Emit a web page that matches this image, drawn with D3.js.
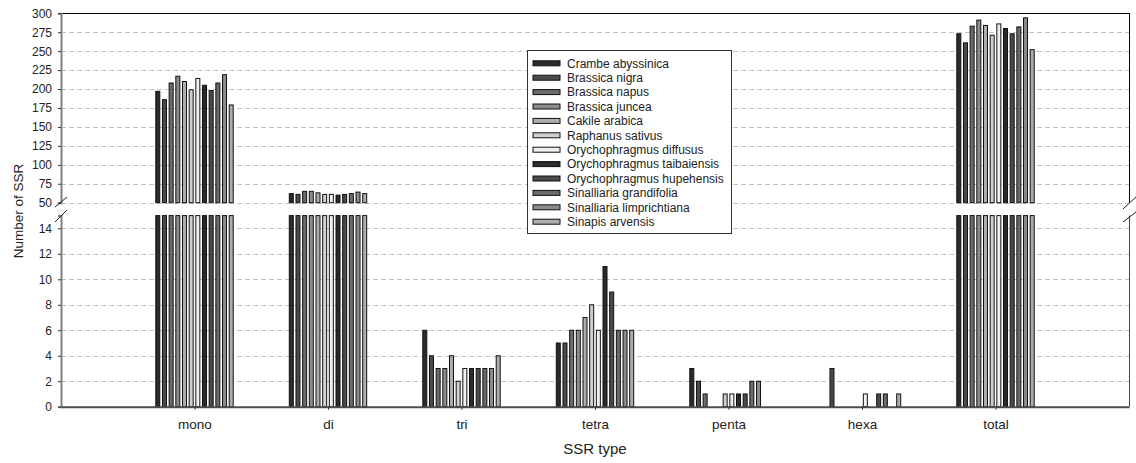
<!DOCTYPE html>
<html>
<head>
<meta charset="utf-8">
<script src="https://cdn.jsdelivr.net/npm/d3@7/dist/d3.min.js"></script>
<style>
  body { margin: 0; background: #fff; }
  svg { display: block; font-family: "Liberation Sans", Arial, sans-serif; }
</style>
</head>
<body>
<div id="chart"></div>
<script>
const categories = ['mono', 'di', 'tri', 'tetra', 'penta', 'hexa', 'total'];
const species = [
  'Crambe abyssinica', 'Brassica nigra', 'Brassica napus', 'Brassica juncea',
  'Cakile arabica', 'Raphanus sativus', 'Orychophragmus diffusus',
  'Orychophragmus taibaiensis', 'Orychophragmus hupehensis',
  'Sinalliaria grandifolia', 'Sinalliaria limprichtiana', 'Sinapis arvensis'
];
// counts per SSR type, one value per species (same order as species)
const mono  = [197, 186, 208, 217, 210, 199, 214, 205, 198, 208, 219, 179];
const di    = [62, 61, 65, 65, 63, 61, 61, 60, 61, 62, 64, 62];
const tri   = [6, 4, 3, 3, 4, 2, 3, 3, 3, 3, 3, 4];
const tetra = [5, 5, 6, 6, 7, 8, 6, 11, 9, 6, 6, 6];
const penta = [3, 2, 1, 0, 0, 1, 1, 1, 1, 2, 2, 0];
const hexa  = [0, 3, 0, 0, 0, 0, 1, 0, 1, 1, 0, 1];
const total = [273, 261, 283, 291, 284, 271, 286, 280, 273, 282, 294, 252];
const topTicks = [50, 75, 100, 125, 150, 175, 200, 225, 250, 275, 300];
const bottomTicks = [0, 2, 4, 6, 8, 10, 12, 14];
const colors = ['#2b2b2b', '#4a4a4a', '#6b6b6b', '#8c8c8c', '#adadad', '#cfcfcf',
  '#f0f0f0', '#2b2b2b', '#4a4a4a', '#6b6b6b', '#8c8c8c', '#adadad'];

const width = 1136, height = 463;
const left = 61, right = 1129;
const seriesByType = { mono, di, tri, tetra, penta, hexa, total };

const svg = d3.select('#chart').append('svg')
  .attr('width', width)
  .attr('height', height);

const x0 = d3.scalePoint().domain(categories).range([left, right]).padding(1);
const x1 = d3.scaleBand().domain(species).range([-38.7, 38.7]).paddingInner(0.4);
const color = d3.scaleOrdinal().domain(species).range(colors);

// broken y axis: upper part 50-300, lower part 0-15
const yTop = d3.scaleLinear().domain([50, 300]).range([202.7, 13.3]);
const yBot = d3.scaleLinear().domain([0, 15]).range([406.7, 215.6]);

// grid lines
const grid = svg.append('g')
  .attr('stroke', '#c4c4c4')
  .attr('stroke-dasharray', '5,3');
grid.selectAll('.gt').data(topTicks.filter(d => d < 300)).enter().append('line')
  .attr('x1', left).attr('x2', right)
  .attr('y1', d => Math.round(yTop(d)) + 0.5).attr('y2', d => Math.round(yTop(d)) + 0.5);
grid.selectAll('.gb').data(bottomTicks.filter(d => d > 0)).enter().append('line')
  .attr('x1', left).attr('x2', right)
  .attr('y1', d => Math.round(yBot(d)) + 0.5).attr('y2', d => Math.round(yBot(d)) + 0.5);

// rows: one per (type, species)
const rows = [];
categories.forEach(c => {
  seriesByType[c].forEach((v, i) => rows.push({ type: c, sp: species[i], value: v }));
});

const bars = svg.append('g')
  .attr('stroke', '#111')
  .attr('stroke-width', 1);

// lower panel pieces
bars.selectAll('.b').data(rows.filter(d => d.value > 0)).enter().append('rect')
  .attr('x', d => x0(d.type) + x1(d.sp))
  .attr('width', x1.bandwidth())
  .attr('y', d => yBot(Math.min(d.value, 15)))
  .attr('height', d => yBot(0) - yBot(Math.min(d.value, 15)))
  .attr('fill', d => color(d.sp));

// upper panel pieces
bars.selectAll('.t').data(rows.filter(d => d.value > 50)).enter().append('rect')
  .attr('x', d => x0(d.type) + x1(d.sp))
  .attr('width', x1.bandwidth())
  .attr('y', d => yTop(d.value))
  .attr('height', d => yTop(50) - yTop(d.value))
  .attr('fill', d => color(d.sp));

// frame lines
svg.append('line').attr('x1', left).attr('x2', right).attr('y1', 13.5).attr('y2', 13.5)
  .attr('stroke', '#000').attr('stroke-width', 1);
svg.append('line').attr('x1', right + 0.5).attr('x2', right + 0.5).attr('y1', 13).attr('y2', yTop(50))
  .attr('stroke', '#000').attr('stroke-width', 1);
svg.append('line').attr('x1', right + 0.5).attr('x2', right + 0.5).attr('y1', yBot(15)).attr('y2', yBot(0))
  .attr('stroke', '#444').attr('stroke-width', 1);

// y axes
const axTop = svg.append('g').attr('transform', `translate(${left},0)`)
  .call(d3.axisLeft(yTop).tickValues(topTicks).tickSize(3).tickPadding(6));
const axBot = svg.append('g').attr('transform', `translate(${left},0)`)
  .call(d3.axisLeft(yBot).tickValues(bottomTicks).tickSize(3).tickPadding(6));
[axTop, axBot].forEach(ax => {
  ax.select('.domain').attr('stroke', '#808080').attr('stroke-width', 2);
  ax.selectAll('.tick line').attr('stroke', '#333');
  ax.selectAll('.tick text').attr('fill', '#222').attr('font-size', 12);
});

// x axis
const axX = svg.append('g').attr('transform', `translate(0,${yBot(0)})`)
  .call(d3.axisBottom(x0).tickSize(3).tickPadding(10).tickSizeOuter(0));
axX.select('.domain').attr('stroke', '#4d4d4d').attr('stroke-width', 2);
axX.selectAll('.tick line').attr('stroke', '#333');
axX.selectAll('.tick text').attr('fill', '#222').attr('font-size', 13.5);

// break marks
const breaks = svg.append('g').attr('stroke', '#222').attr('stroke-width', 1);
[[55, 207, 67, 197], [55, 222, 67, 210], [1123, 209, 1136, 197], [1123, 222, 1136, 212]]
  .forEach(s => breaks.append('line')
    .attr('x1', s[0]).attr('y1', s[1]).attr('x2', s[2]).attr('y2', s[3]));

// axis titles
svg.append('text')
  .attr('transform', 'translate(23,211) rotate(-90)')
  .attr('text-anchor', 'middle')
  .attr('font-size', 13.5)
  .attr('fill', '#222')
  .text('Number of SSR');
svg.append('text')
  .attr('x', x0('tetra')).attr('y', 454)
  .attr('text-anchor', 'middle')
  .attr('font-size', 15)
  .attr('fill', '#222')
  .text('SSR type');

// legend
const legend = svg.append('g');
legend.append('rect')
  .attr('x', 527.5).attr('y', 50.5).attr('width', 204).attr('height', 183)
  .attr('fill', '#fff').attr('stroke', '#333');
const item = legend.selectAll('.item').data(species).enter().append('g')
  .attr('transform', (d, i) => `translate(533,${63.3 + i * 14.4})`);
item.append('rect')
  .attr('x', 0).attr('y', -2.5).attr('width', 27).attr('height', 5)
  .attr('fill', d => color(d)).attr('stroke', '#111');
item.append('text')
  .attr('x', 34).attr('y', 4.2)
  .attr('font-size', 12)
  .attr('fill', '#222')
  .text(d => d);
</script>
</body>
</html>
